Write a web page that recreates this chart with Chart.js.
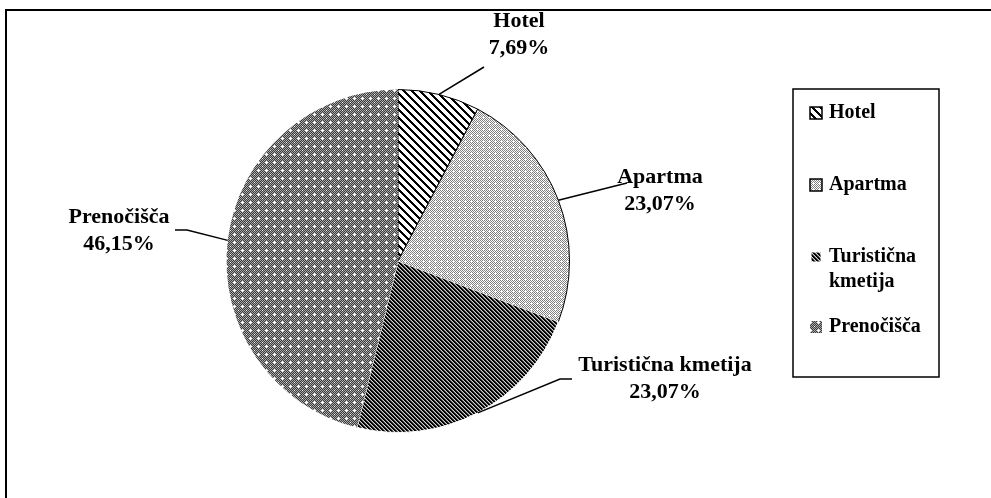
<!DOCTYPE html>
<html>
<head>
<meta charset="utf-8">
<script src="https://cdn.jsdelivr.net/npm/chart.js@4"></script>
<style>
  html, body { margin: 0; padding: 0; background: #fff; }
  canvas { display: block; }
</style>
</head>
<body>
<canvas id="chart" width="991" height="498"></canvas>
<script>
const categories = ['Hotel', 'Apartma', 'Turistična kmetija', 'Prenočišča'];
const shares = [7.69, 23.07, 23.07, 46.15];
const shareLabels = ['7,69%', '23,07%', '23,07%', '46,15%'];
const legendLines = [['Hotel'], ['Apartma'], ['Turistična', 'kmetija'], ['Prenočišča']];

// black & white hatch fills like the old office print patterns
function makePattern(size, paint) {
  const c = document.createElement('canvas');
  c.width = size; c.height = size;
  const g = c.getContext('2d');
  g.fillStyle = '#fff';
  g.fillRect(0, 0, size, size);
  for (let y = 0; y < size; y++) {
    for (let x = 0; x < size; x++) {
      const col = paint(x, y);
      if (col) { g.fillStyle = col; g.fillRect(x, y, 1, 1); }
    }
  }
  return g.createPattern(c, 'repeat');
}

const isPlus = (x, y, cx, cy) => (x === cx && Math.abs(y - cy) <= 1) || (y === cy && Math.abs(x - cx) <= 1);

const fills = [
  makePattern(8, (x, y) => ((x - y + 16) % 8) < 3 ? '#000' : null),
  makePattern(6, (x, y) => isPlus(x, y, 3, 3) ? null : ((x + y) % 2 === 0 ? '#808080' : null)),
  makePattern(4, (x, y) => {
    const k = (x - y + 8) % 4;
    return k < 2 ? '#000' : (k === 2 ? '#606060' : '#d0d0d0');
  }),
  makePattern(8, (x, y) => (isPlus(x, y, 2, 2) || isPlus(x, y, 6, 6) && (x + y) % 2 === 0) ? null : ((x + y) % 2 ? '#3c3c3c' : '#a8a8a8'))
];
const edgeColors = ['#000', '#000', '#fff', '#fff'];
const edgeWidths = [1, 1, 1, 0];

// where the data labels sit and how their leader lines bend
const labelSpots = [
  { x: 519, y: 21, bend: [[484, 67]] },
  { x: 660, y: 177, bend: [[627, 183]] },
  { x: 665, y: 365, bend: [[560, 379], [572, 379]] },
  { x: 119, y: 217, bend: [[187, 230], [175, 230]] }
];
const legendRows = [113, 185, 257, 327];

const serif = '"Liberation Serif", "Times New Roman", serif';

const decorations = {
  id: 'decorations',
  afterDraw(chart) {
    const ctx = chart.ctx;
    const meta = chart.getDatasetMeta(0);
    ctx.save();

    // outer frame (only top and left are inside the picture)
    ctx.strokeStyle = '#000';
    ctx.lineWidth = 2;
    ctx.beginPath();
    ctx.moveTo(6, 498);
    ctx.lineTo(6, 10);
    ctx.lineTo(991, 10);
    ctx.stroke();

    // data labels with leader lines
    ctx.font = 'bold 22px ' + serif;
    ctx.fillStyle = '#000';
    ctx.textAlign = 'center';
    ctx.textBaseline = 'middle';
    meta.data.forEach((arc, i) => {
      const p = arc.getProps(['x', 'y', 'startAngle', 'endAngle', 'outerRadius'], true);
      const mid = (p.startAngle + p.endAngle) / 2;
      const spot = labelSpots[i];
      ctx.lineWidth = 1.5;
      ctx.beginPath();
      ctx.moveTo(p.x + Math.cos(mid) * p.outerRadius, p.y + Math.sin(mid) * p.outerRadius);
      spot.bend.forEach(pt => ctx.lineTo(pt[0], pt[1]));
      ctx.stroke();
      ctx.fillText(categories[i], spot.x, spot.y);
      ctx.fillText(shareLabels[i], spot.x, spot.y + 27);
    });

    // legend box
    ctx.lineWidth = 1.5;
    ctx.strokeRect(793, 89, 146, 288);
    ctx.font = 'bold 20px ' + serif;
    ctx.textAlign = 'left';
    legendLines.forEach((lines, i) => {
      const y = legendRows[i];
      const s = i === 2 ? 9 : 12;
      ctx.fillStyle = fills[i];
      ctx.fillRect(816 - s / 2, y - s / 2, s, s);
      if (edgeColors[i] === '#000') {
        ctx.lineWidth = 1.5;
        ctx.strokeRect(816 - s / 2, y - s / 2, s, s);
      }
      ctx.fillStyle = '#000';
      lines.forEach((t, k) => ctx.fillText(t, 829, y + k * 25));
    });

    ctx.restore();
  }
};

new Chart(document.getElementById('chart'), {
  type: 'pie',
  data: {
    labels: categories,
    datasets: [{
      data: shares,
      backgroundColor: fills,
      borderColor: edgeColors,
      borderWidth: edgeWidths
    }]
  },
  options: {
    responsive: false,
    animation: false,
    devicePixelRatio: 1,
    events: [],
    layout: { padding: { left: 226, top: 89, right: 421, bottom: 65 } },
    plugins: {
      legend: { display: false },
      tooltip: { enabled: false }
    }
  },
  plugins: [decorations]
});
</script>
</body>
</html>
